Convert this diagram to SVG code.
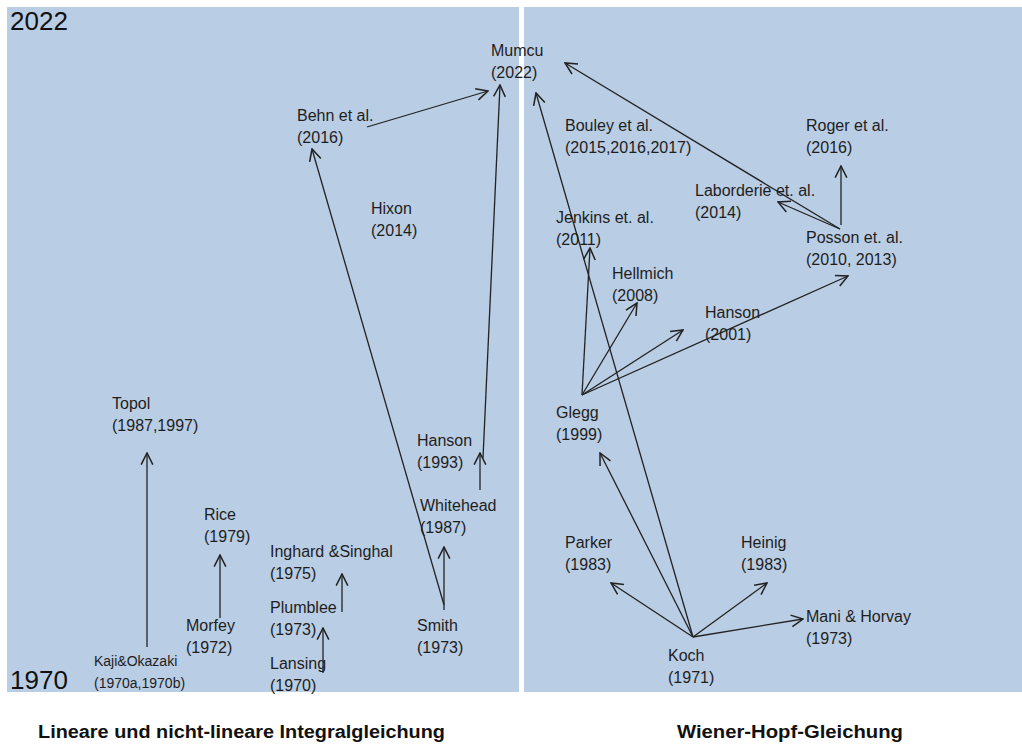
<svg xmlns="http://www.w3.org/2000/svg" width="1022" height="745" viewBox="0 0 1022 745">
<style>
.panel{fill:#b9cde4}
.t{font-family:"Liberation Sans",Arial,sans-serif;font-size:16px;fill:#1e1e1e}
.s{font-family:"Liberation Sans",Arial,sans-serif;font-size:14px;fill:#1e1e1e}
.big{font-family:"Liberation Sans",Arial,sans-serif;font-size:26px;fill:#111}
.cap{font-family:"Liberation Sans",Arial,sans-serif;font-size:18px;font-weight:bold;fill:#111}
.c line{stroke:#222;stroke-width:1.3;marker-end:url(#ah)}
</style>
<defs>
<marker id="ah" markerUnits="userSpaceOnUse" markerWidth="14" markerHeight="14" viewBox="0 0 12 12" refX="11" refY="6" orient="auto">
<path d="M1,1 L11,6 L1,11" fill="none" stroke="#222" stroke-width="1.3"/>
</marker>
</defs>
<rect width="1022" height="745" fill="#ffffff"/>
<rect class="panel" x="7" y="7" width="512" height="685"/>
<rect class="panel" x="524" y="7" width="498" height="685"/>
<text class="big" x="10" y="30">2022</text>
<text class="big" x="10" y="689">1970</text>
<g class="c" id="connectors">
<line x1="367" y1="127" x2="488" y2="91"/>
<line x1="444" y1="605" x2="312" y2="149"/>
<line x1="444" y1="610" x2="444" y2="547"/>
<line x1="480" y1="490" x2="480" y2="453"/>
<line x1="483" y1="458" x2="500" y2="85"/>
<line x1="147" y1="647" x2="147" y2="453"/>
<line x1="220" y1="618" x2="220" y2="555"/>
<line x1="342" y1="612" x2="342" y2="574"/>
<line x1="323" y1="673" x2="323" y2="628"/>
<line x1="693" y1="637" x2="536" y2="93"/>
<line x1="693" y1="637" x2="600" y2="453"/>
<line x1="693" y1="637" x2="611" y2="583"/>
<line x1="693" y1="637" x2="767" y2="583"/>
<line x1="693" y1="637" x2="803" y2="619"/>
<line x1="582" y1="395" x2="590" y2="248"/>
<line x1="582" y1="395" x2="637" y2="303"/>
<line x1="582" y1="395" x2="683" y2="330"/>
<line x1="582" y1="395" x2="848" y2="276"/>
<line x1="840" y1="229" x2="565" y2="63"/>
<line x1="840" y1="229" x2="778" y2="202"/>
<line x1="841" y1="225" x2="841" y2="166"/>
</g>
<g id="mumcu"><text class="t" x="491" y="56">Mumcu</text><text class="t" x="491" y="78">(2022)</text></g>
<g id="behn"><text class="t" x="297" y="121">Behn et al.</text><text class="t" x="297" y="143">(2016)</text></g>
<g id="hixon"><text class="t" x="371" y="214">Hixon</text><text class="t" x="371" y="236">(2014)</text></g>
<g id="topol"><text class="t" x="112" y="409">Topol</text><text class="t" x="112" y="431">(1987,1997)</text></g>
<g id="rice"><text class="t" x="204" y="520">Rice</text><text class="t" x="204" y="542">(1979)</text></g>
<g id="inghard"><text class="t" x="270" y="557">Inghard &amp;Singhal</text><text class="t" x="270" y="579">(1975)</text></g>
<g id="plumblee"><text class="t" x="270" y="613">Plumblee</text><text class="t" x="270" y="635">(1973)</text></g>
<g id="morfey"><text class="t" x="186" y="631">Morfey</text><text class="t" x="186" y="653">(1972)</text></g>
<g id="lansing"><text class="t" x="270" y="669">Lansing</text><text class="t" x="270" y="691">(1970)</text></g>
<g id="kaji"><text class="s" x="94" y="666">Kaji&amp;Okazaki</text><text class="s" x="94" y="688">(1970a,1970b)</text></g>
<g id="smith"><text class="t" x="417" y="631">Smith</text><text class="t" x="417" y="653">(1973)</text></g>
<g id="whitehead"><text class="t" x="420" y="511">Whitehead</text><text class="t" x="420" y="533">(1987)</text></g>
<g id="hanson1993"><text class="t" x="417" y="446">Hanson</text><text class="t" x="417" y="468">(1993)</text></g>
<g id="bouley"><text class="t" x="565" y="131">Bouley et al.</text><text class="t" x="565" y="153">(2015,2016,2017)</text></g>
<g id="roger"><text class="t" x="806" y="131">Roger et al.</text><text class="t" x="806" y="153">(2016)</text></g>
<g id="laborderie"><text class="t" x="695" y="196">Laborderie et. al.</text><text class="t" x="695" y="218">(2014)</text></g>
<g id="jenkins"><text class="t" x="556" y="223">Jenkins et. al.</text><text class="t" x="556" y="245">(2011)</text></g>
<g id="posson"><text class="t" x="806" y="243">Posson et. al.</text><text class="t" x="806" y="265">(2010, 2013)</text></g>
<g id="hellmich"><text class="t" x="612" y="279">Hellmich</text><text class="t" x="612" y="301">(2008)</text></g>
<g id="hanson2001"><text class="t" x="705" y="318">Hanson</text><text class="t" x="705" y="340">(2001)</text></g>
<g id="glegg"><text class="t" x="556" y="418">Glegg</text><text class="t" x="556" y="440">(1999)</text></g>
<g id="parker"><text class="t" x="565" y="548">Parker</text><text class="t" x="565" y="570">(1983)</text></g>
<g id="heinig"><text class="t" x="741" y="548">Heinig</text><text class="t" x="741" y="570">(1983)</text></g>
<g id="mani"><text class="t" x="806" y="622">Mani &amp; Horvay</text><text class="t" x="806" y="644">(1973)</text></g>
<g id="koch"><text class="t" x="668" y="661">Koch</text><text class="t" x="668" y="683">(1971)</text></g>
<text class="cap" x="38" y="738" textLength="407" lengthAdjust="spacingAndGlyphs">Lineare und nicht-lineare Integralgleichung</text>
<text class="cap" x="677" y="738" textLength="226" lengthAdjust="spacingAndGlyphs">Wiener-Hopf-Gleichung</text>
</svg>
